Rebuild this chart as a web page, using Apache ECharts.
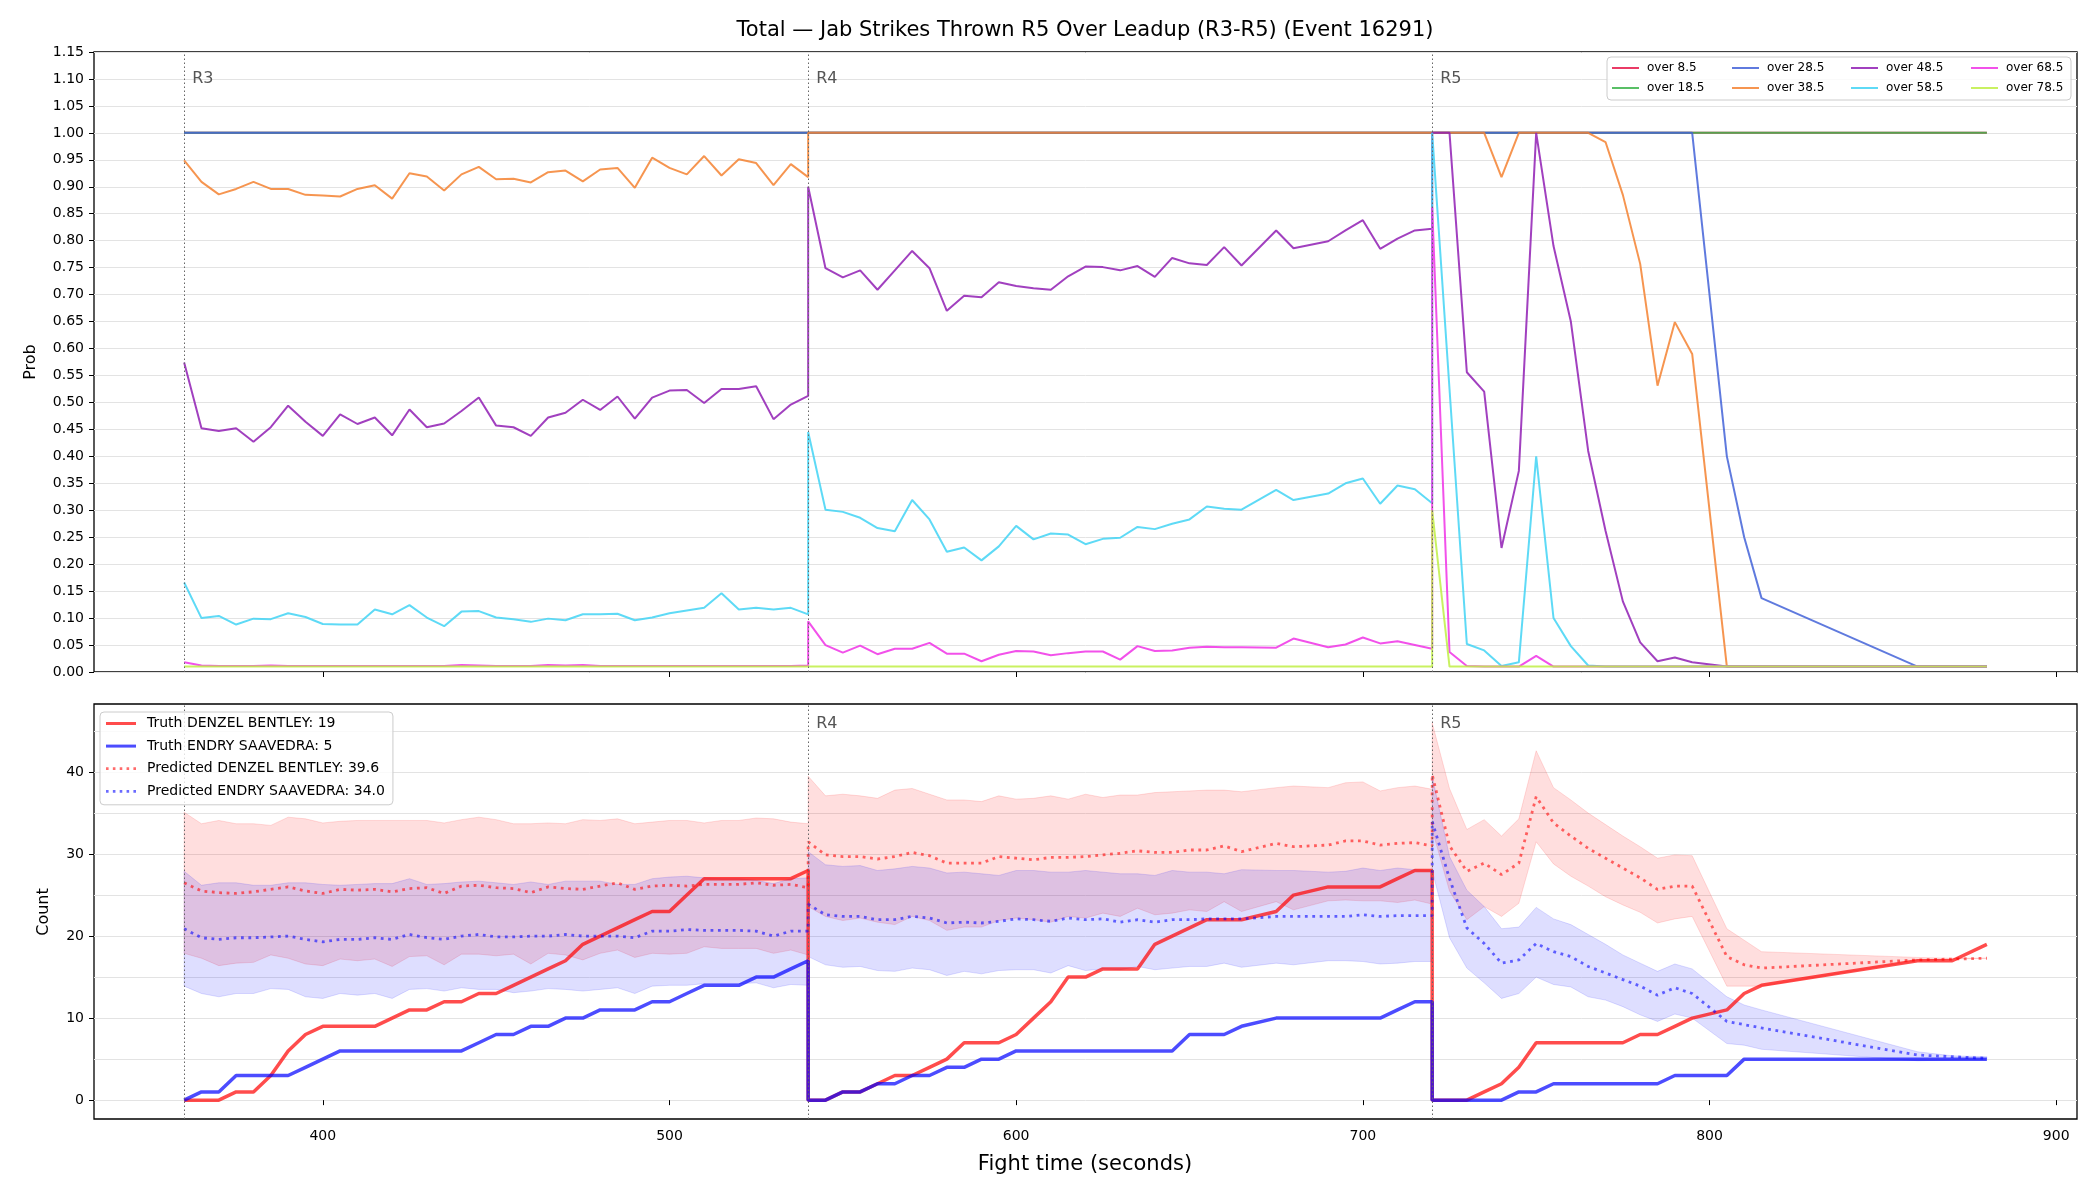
<!DOCTYPE html>
<html>
<head>
<meta charset="utf-8">
<script src="https://cdn.jsdelivr.net/npm/echarts@6/dist/echarts.min.js"></script>
<style>
  html, body { margin: 0; padding: 0; background: #fff; }
  #chart { width: 2100px; height: 1200px; }
</style>
</head>
<body>
<div id="chart"></div>
<script>
// sample times (s); rounds start at 360, 540, 720 (boundaries repeated)
const times = [
  360,365,370,375,380,385,390,395,400,405,410,415,420,425,430,435,440,445,450,455,
  460,465,470,475,480,485,490,495,500,505,510,515,520,525,530,535,540,
  540,545,550,555,560,565,570,575,580,585,590,595,600,605,610,615,620,625,630,635,
  640,645,650,655,660,665,675,680,690,695,700,705,710,715,720,
  720,725,730,735,740,745,750,755,760,765,770,775,780,785,790,795,805,810,815,860,870,880
];

// top panel: P(over X)
const pOver8 = [
  1,1,1,1,1,1,1,1,1,1,1,1,1,1,1,1,1,1,1,1,1,1,1,1,1,1,1,1,1,1,1,1,1,1,1,1,1,
  1,1,1,1,1,1,1,1,1,1,1,1,1,1,1,1,1,1,1,1,1,1,1,1,1,1,1,1,1,1,1,1,1,1,1,
  1,1,1,1,1,1,1,1,1,1,1,1,1,1,1,1,1,1,1,1,1,1
];
const pOver18 = [
  1,1,1,1,1,1,1,1,1,1,1,1,1,1,1,1,1,1,1,1,1,1,1,1,1,1,1,1,1,1,1,1,1,1,1,1,1,
  1,1,1,1,1,1,1,1,1,1,1,1,1,1,1,1,1,1,1,1,1,1,1,1,1,1,1,1,1,1,1,1,1,1,1,
  1,1,1,1,1,1,1,1,1,1,1,1,1,1,1,1,1,1,1,1,1,1
];
const pOver28 = [
  1,1,1,1,1,1,1,1,1,1,1,1,1,1,1,1,1,1,1,1,1,1,1,1,1,1,1,1,1,1,1,1,1,1,1,1,1,
  1,1,1,1,1,1,1,1,1,1,1,1,1,1,1,1,1,1,1,1,1,1,1,1,1,1,1,1,1,1,1,1,1,1,1,
  1,1,1,1,1,1,1,1,1,1,1,1,1,1,1,1,0.40,0.25,0.137,0.01,0.01,0.01
];
const pOver38 = [
  0.949,0.909,0.886,0.896,0.909,0.896,0.896,0.885,0.884,0.882,0.896,0.903,0.878,0.925,0.919,0.893,0.923,0.937,0.914,
  0.915,0.908,0.927,0.930,0.910,0.932,0.935,0.898,0.954,0.935,0.923,0.957,0.921,0.951,0.944,0.903,0.942,0.918,
  1,1,1,1,1,1,1,1,1,1,1,1,1,1,1,1,1,1,1,1,1,1,1,1,1,1,1,1,1,1,1,1,1,1,1,
  1,1,1,1,0.918,1,1,1,1,1,0.983,0.885,0.757,0.531,0.649,0.590,0.01,0.01,0.01,0.01,0.01,0.01
];
const pOver48 = [
  0.574,0.452,0.447,0.452,0.427,0.454,0.494,0.464,0.438,0.478,0.460,0.472,0.439,0.487,0.454,0.461,0.484,0.509,0.457,
  0.454,0.438,0.472,0.481,0.505,0.486,0.511,0.470,0.509,0.522,0.523,0.499,0.525,0.525,0.530,0.469,0.496,0.512,
  0.900,0.749,0.732,0.745,0.709,0.745,0.781,0.749,0.670,0.698,0.695,0.723,0.716,0.712,0.709,0.734,0.752,0.751,
  0.745,0.753,0.733,0.768,0.758,0.755,0.788,0.754,0.819,0.786,0.799,0.819,0.838,0.785,0.804,0.819,0.822,
  1,1,0.556,0.520,0.230,0.373,1,0.790,0.650,0.410,0.262,0.131,0.055,0.020,0.027,0.018,0.01,0.01,0.01,0.01,0.01,0.01
];
const pOver58 = [
  0.166,0.100,0.104,0.088,0.099,0.098,0.109,0.102,0.089,0.088,0.088,0.116,0.107,0.124,0.101,0.085,0.112,0.113,0.101,
  0.098,0.093,0.099,0.096,0.107,0.107,0.108,0.096,0.101,0.109,0.114,0.119,0.146,0.116,0.119,0.116,0.119,0.107,
  0.445,0.301,0.297,0.286,0.267,0.261,0.319,0.283,0.223,0.231,0.207,0.233,0.271,0.246,0.257,0.255,0.237,0.247,
  0.249,0.269,0.265,0.275,0.283,0.307,0.303,0.301,0.338,0.319,0.331,0.350,0.359,0.312,0.346,0.339,0.313,
  1,0.525,0.052,0.040,0.011,0.018,0.400,0.100,0.048,0.012,0.01,0.01,0.01,0.01,0.01,0.01,0.01,0.01,0.01,0.01,0.01,0.01
];
const pOver68 = [
  0.018,0.012,0.011,0.011,0.011,0.012,0.011,0.011,0.011,0.011,0.011,0.011,0.011,0.011,0.011,0.011,0.013,0.012,0.011,
  0.011,0.011,0.013,0.012,0.013,0.011,0.011,0.011,0.011,0.011,0.011,0.011,0.011,0.011,0.011,0.011,0.011,0.012,
  0.094,0.050,0.036,0.049,0.033,0.043,0.043,0.054,0.034,0.034,0.020,0.032,0.039,0.038,0.031,0.035,0.038,0.038,
  0.023,0.048,0.039,0.040,0.045,0.047,0.046,0.046,0.045,0.062,0.046,0.051,0.064,0.053,0.057,0.050,0.043,
  0.862,0.037,0.011,0.01,0.01,0.01,0.030,0.01,0.01,0.01,0.01,0.01,0.01,0.01,0.01,0.01,0.01,0.01,0.01,0.01,0.01,0.01
];
const pOver78 = [
  0.01,0.01,0.01,0.01,0.01,0.01,0.01,0.01,0.01,0.01,0.01,0.01,0.01,0.01,0.01,0.01,0.01,0.01,0.01,
  0.01,0.01,0.01,0.01,0.01,0.01,0.01,0.01,0.01,0.01,0.01,0.01,0.01,0.01,0.01,0.01,0.01,0.01,
  0.01,0.01,0.01,0.01,0.01,0.01,0.01,0.01,0.01,0.01,0.01,0.01,0.01,0.01,0.01,0.01,0.01,0.01,
  0.01,0.01,0.01,0.01,0.01,0.01,0.01,0.01,0.01,0.01,0.01,0.01,0.01,0.01,0.01,0.01,0.01,
  0.30,0.01,0.01,0.01,0.01,0.01,0.01,0.01,0.01,0.01,0.01,0.01,0.01,0.01,0.01,0.01,0.01,0.01,0.01,0.01,0.01,0.01
];

// bottom panel: counts
const truthDenzel = [
  0,0,0,1,1,3,6,8,9,9,9,9,10,11,11,12,12,13,13,14,15,16,17,19,20,21,22,23,23,25,27,27,27,27,27,27,28,
  0,0,1,1,2,3,3,4,5,7,7,7,8,10,12,15,15,16,16,16,19,20,21,22,22,22,23,25,26,26,26,26,27,28,28,
  0,0,0,1,2,4,7,7,7,7,7,7,8,8,9,10,11,13,14,17,17,19
];
const truthEndry = [
  0,1,1,3,3,3,3,4,5,6,6,6,6,6,6,6,6,7,8,8,9,9,10,10,11,11,11,12,12,13,14,14,14,15,15,16,17,
  0,0,1,1,2,2,3,3,4,4,5,5,6,6,6,6,6,6,6,6,6,6,8,8,8,9,10,10,10,10,10,10,11,12,12,
  0,0,0,0,0,1,1,2,2,2,2,2,2,2,3,3,3,5,5,5,5,5
];
const predDenzel = [
  26.5,25.5,25.3,25.2,25.4,25.7,26.0,25.5,25.2,25.7,25.6,25.7,25.4,25.8,25.9,25.2,26.1,26.2,25.9,
  25.8,25.3,26.0,25.8,25.7,26.1,26.5,25.7,26.1,26.2,26.1,26.3,26.3,26.3,26.5,26.2,26.3,25.9,
  31.5,29.9,29.7,29.7,29.4,29.7,30.2,29.8,28.9,28.9,28.9,29.7,29.5,29.3,29.6,29.6,29.7,29.9,30.1,
  30.4,30.2,30.2,30.5,30.5,31.0,30.3,31.3,30.9,31.1,31.6,31.6,31.1,31.3,31.4,31.0,
  39.7,31.0,27.9,28.9,27.5,28.9,37.0,33.8,32.2,30.7,29.5,28.3,27.1,25.7,26.1,26.1,17.5,16.5,16.1,17.1,17.2,17.3
];
const predDenzelHi = [
  35.1,33.7,34.1,33.7,33.7,33.5,34.5,34.3,33.8,34.0,34.1,34.1,34.1,34.1,34.1,33.8,34.2,34.5,34.2,
  33.7,33.7,33.8,33.7,34.2,34.1,34.3,33.7,33.9,34.1,34.1,33.8,34.1,34.1,34.4,34.3,33.9,33.7,
  39.5,37.1,37.3,37.1,36.8,37.8,38.0,37.3,36.6,36.6,36.4,37.1,36.7,36.8,37.1,36.7,37.3,36.9,37.2,
  37.2,37.5,37.6,37.7,37.8,37.8,37.6,38.1,38.3,38.1,38.7,38.8,37.7,38.1,38.3,37.9,
  46.0,38.0,33.0,34.2,32.2,34.3,42.6,38.1,36.6,35.0,33.6,32.2,30.9,29.5,29.9,29.8,20.9,19.5,18.1,17.4,17.3,17.3
];
const predDenzelLo = [
  17.9,17.3,16.4,16.7,16.8,17.7,17.3,16.6,16.4,17.2,17.0,17.2,16.3,17.5,17.6,16.5,17.8,17.8,17.6,
  17.8,16.6,17.9,17.7,17.1,17.9,18.3,17.4,17.9,17.8,17.9,18.7,18.5,18.5,18.5,17.9,18.3,17.7,
  23.6,22.4,21.9,22.2,21.7,21.4,22.4,21.9,20.7,21.1,21.1,21.9,22.2,22.0,21.7,22.4,22.2,22.8,22.4,
  23.4,22.6,22.8,23.2,23.0,24.2,23.0,24.2,23.2,24.3,24.4,24.3,24.3,24.1,24.4,23.9,
  33.0,25.5,22.0,23.6,22.4,24.0,31.5,28.8,27.3,26.1,24.8,23.8,22.9,21.6,22.1,22.4,13.9,13.9,13.9,17.0,17.2,17.3
];
const predEndry = [
  20.9,19.8,19.6,19.8,19.8,19.9,20.0,19.6,19.3,19.6,19.6,19.8,19.6,20.2,19.8,19.6,20.0,20.2,19.9,
  19.9,20.0,20.0,20.2,20.0,20.0,20.0,19.8,20.6,20.6,20.8,20.7,20.7,20.7,20.6,20.0,20.6,20.6,
  23.9,22.6,22.4,22.4,22.0,22.0,22.4,22.2,21.6,21.7,21.6,21.8,22.1,22.0,21.8,22.2,22.0,22.1,21.7,
  22.0,21.7,22.0,22.0,22.1,22.1,22.1,22.4,22.4,22.4,22.4,22.6,22.4,22.5,22.5,22.5,
  34.0,27.0,21.0,19.1,16.7,17.1,19.1,18.1,17.5,16.3,15.5,14.7,13.9,12.8,13.7,13.0,9.6,9.2,8.8,5.5,5.3,5.1
];
const predEndryHi = [
  27.9,26.2,26.5,26.5,26.2,26.2,26.5,26.5,26.3,26.2,26.3,26.4,26.4,27.0,26.3,26.4,26.6,26.7,26.5,
  26.3,26.6,26.3,26.7,26.7,26.7,26.3,26.3,27.0,27.2,27.3,27.1,27.0,27.0,26.8,26.4,27.0,27.1,
  30.3,28.7,28.5,28.6,28.0,28.2,28.5,28.3,27.7,27.8,27.6,27.4,28.0,28.0,27.8,27.8,28.0,27.8,27.6,
  27.6,27.4,28.0,27.8,27.8,27.6,28.1,28.0,28.0,27.8,27.9,28.3,28.0,28.3,28.1,28.0,
  39.5,29.7,25.6,23.6,20.9,21.1,23.5,22.1,21.4,20.2,19.0,17.7,16.7,15.7,16.6,16.0,12.6,11.6,11.0,5.9,5.4,5.3
];
const predEndryLo = [
  13.9,13.0,12.6,13.0,13.0,13.6,13.5,12.6,12.4,13.0,12.8,13.0,12.4,13.5,13.6,13.3,13.7,13.5,13.5,
  13.1,13.3,13.6,13.5,13.3,13.5,13.7,13.0,13.9,14.0,14.0,14.2,14.2,14.2,14.3,13.7,14.1,14.0,
  17.5,16.5,16.2,16.3,15.8,15.7,16.1,15.9,15.2,15.7,15.4,15.8,15.9,15.9,15.5,16.4,15.8,16.0,15.9,
  16.3,15.9,16.1,16.3,16.3,16.7,16.2,16.7,16.5,17.0,17.0,16.9,16.6,16.7,16.9,16.9,
  28.0,19.8,16.1,14.3,12.4,13.0,15.0,14.1,13.8,12.6,12.2,11.4,10.4,9.6,10.5,10.0,6.9,6.7,6.2,4.8,4.9,5.0
];

const roundStarts = [360, 540, 720];
const roundNames = ['R3', 'R4', 'R5'];
const xTicks = [400, 500, 600, 700, 800, 900];
const countTicks = [0, 10, 20, 30, 40];
const countGrid = [0, 5, 10, 15, 20, 25, 30, 35, 40, 45];

const FONT = '"DejaVu Sans", sans-serif';
const pairs = vals => times.map((t, i) => [t, vals[i]]);
const fade = (hex, a) => 'rgba(' + [1, 3, 5].map(i => parseInt(hex.substr(i, 2), 16)).join(',') + ',' + a + ')';

const thresholds = [
  ['over 8.5', pOver8, '#e6194b'],
  ['over 18.5', pOver18, '#3cb44b'],
  ['over 28.5', pOver28, '#4363d8'],
  ['over 38.5', pOver38, '#f58231'],
  ['over 48.5', pOver48, '#911eb4'],
  ['over 58.5', pOver58, '#42d4f4'],
  ['over 68.5', pOver68, '#f032e6'],
  ['over 78.5', pOver78, '#bfef45']
];

const roundLine = {
  silent: true, symbol: ['none', 'none'], animation: false,
  label: { show: false },
  lineStyle: { color: '#666', type: [1.5, 2.5], width: 1 },
  data: roundStarts.map(x => ({ xAxis: x }))
};
function roundLabels(yVal, from) {
  return {
    silent: true, symbolSize: 0, animation: false,
    label: { show: true, position: 'right', distance: 8, formatter: '{b}',
             color: '#555', fontSize: 16, fontFamily: FONT },
    data: roundStarts.slice(from).map((x, k) => ({ name: roundNames[k + from], coord: [x, yVal] }))
  };
}

const topSeries = thresholds.map(([name, vals, hex], k) => {
  const color = fade(hex, 0.85);
  return {
    name, type: 'line', xAxisIndex: 0, yAxisIndex: 0,
    data: pairs(vals), symbol: 'none', showSymbol: false, z: 2,
    color, lineStyle: { color, width: 2 },
    markLine: k === 0 ? roundLine : undefined,
    markPoint: k === 0 ? roundLabels(1.10, 0) : undefined
  };
});

function band(lo, hi, color) {
  return {
    type: 'custom', xAxisIndex: 1, yAxisIndex: 1, z: 1, silent: true,
    data: [[times[0], lo[0], hi[0]]],
    renderItem: (params, api) => {
      if (params.dataIndex !== 0) return null;
      const top = times.map((t, i) => api.coord([t, hi[i]]));
      const bottom = times.map((t, i) => api.coord([t, lo[i]])).reverse();
      return {
        type: 'polygon',
        shape: { points: top.concat(bottom) },
        style: { fill: color, stroke: color, lineWidth: 1 }
      };
    }
  };
}

const RED = 'rgba(255,0,0,0.7)', BLUE = 'rgba(0,0,255,0.7)';
const RED_P = 'rgba(255,0,0,0.58)', BLUE_P = 'rgba(0,0,255,0.58)';
const dotted = [2.8, 4.6];
const dotIcon = 'path://M0,0h2.8v3h-2.8zM7.4,0h2.8v3h-2.8zM14.8,0h2.8v3h-2.8zM22.2,0h2.8v3h-2.8zM29.6,0h2.8v3h-2.8z';

const bottomSeries = [
  band(predDenzelLo, predDenzelHi, 'rgba(255,0,0,0.13)'),
  band(predEndryLo, predEndryHi, 'rgba(0,0,255,0.13)'),
  { name: 'Truth DENZEL BENTLEY: 19', type: 'line', xAxisIndex: 1, yAxisIndex: 1,
    data: pairs(truthDenzel), symbol: 'none', z: 3, color: RED,
    lineStyle: { color: RED, width: 3.5 },
    markLine: roundLine, markPoint: roundLabels(45.9, 1) },
  { name: 'Truth ENDRY SAAVEDRA: 5', type: 'line', xAxisIndex: 1, yAxisIndex: 1,
    data: pairs(truthEndry), symbol: 'none', z: 3, color: BLUE,
    lineStyle: { color: BLUE, width: 3.5 } },
  { name: 'Predicted DENZEL BENTLEY: 39.6', type: 'line', xAxisIndex: 1, yAxisIndex: 1,
    data: pairs(predDenzel), symbol: 'none', z: 4, color: RED_P,
    lineStyle: { color: RED_P, width: 2.8, type: dotted, cap: 'butt' } },
  { name: 'Predicted ENDRY SAAVEDRA: 34.0', type: 'line', xAxisIndex: 1, yAxisIndex: 1,
    data: pairs(predEndry), symbol: 'none', z: 4, color: BLUE_P,
    lineStyle: { color: BLUE_P, width: 2.8, type: dotted, cap: 'butt' } }
];

const tickStyle = { length: 5, lineStyle: { color: '#000', width: 1 } };
const labelStyle = { color: '#000', fontSize: 14, fontFamily: FONT };

const legendCols = [['over 8.5', 'over 18.5'], ['over 28.5', 'over 38.5'],
                    ['over 48.5', 'over 58.5'], ['over 68.5', 'over 78.5']];
const legendLeft = [1612, 1732, 1851, 1971];

const chart = echarts.init(document.getElementById('chart'));
chart.setOption({
  animation: false,
  backgroundColor: '#fff',
  textStyle: { fontFamily: FONT },
  grid: [
    { left: 94, right: 23, top: 52, height: 620, show: true, borderColor: '#000', borderWidth: 1.3 },
    { left: 94, right: 23, top: 704, height: 415, show: true, borderColor: '#000', borderWidth: 1.3 }
  ],
  xAxis: [
    { gridIndex: 0, type: 'value', min: 334, max: 906,
      axisLine: { show: false }, splitLine: { show: false },
      axisTick: Object.assign({ customValues: xTicks }, tickStyle),
      axisLabel: { show: false } },
    { gridIndex: 1, type: 'value', min: 334, max: 906,
      axisLine: { show: false }, splitLine: { show: false },
      axisTick: Object.assign({ customValues: xTicks }, tickStyle),
      axisLabel: Object.assign({ customValues: xTicks, margin: 10 }, labelStyle) }
  ],
  yAxis: [
    { gridIndex: 0, type: 'value', min: 0, max: 1.15, interval: 0.05,
      axisLine: { show: false }, axisTick: tickStyle,
      axisLabel: Object.assign({ margin: 10, formatter: v => v.toFixed(2) }, labelStyle),
      splitLine: { show: true, lineStyle: { color: '#e3e3e3', width: 1 } } },
    { gridIndex: 1, type: 'value', min: -2.3, max: 48.3,
      axisLine: { show: false }, splitLine: { show: false },
      axisTick: Object.assign({ customValues: countTicks }, tickStyle),
      axisLabel: Object.assign({ customValues: countTicks, margin: 10 }, labelStyle) },
    { gridIndex: 1, type: 'value', min: -2.3, max: 48.3,
      axisLine: { show: false }, axisLabel: { show: false },
      axisTick: { show: false, customValues: countGrid },
      splitLine: { show: true, lineStyle: { color: '#e3e3e3', width: 1 } } }
  ],
  legend: legendCols.map((names, k) => ({
    data: names.map(n => ({ name: n, icon: 'rect' })),
    orient: 'vertical', left: legendLeft[k], top: 61,
    itemWidth: 27, itemHeight: 2, itemGap: 6, padding: 0, selectedMode: false, z: 6,
    textStyle: { color: '#000', fontSize: 12, lineHeight: 14, fontFamily: FONT, padding: [0, 0, 0, 3] }
  })).concat([{
    data: [
      { name: 'Truth DENZEL BENTLEY: 19', icon: 'rect' },
      { name: 'Truth ENDRY SAAVEDRA: 5', icon: 'rect' },
      { name: 'Predicted DENZEL BENTLEY: 39.6', icon: dotIcon },
      { name: 'Predicted ENDRY SAAVEDRA: 34.0', icon: dotIcon }
    ],
    orient: 'vertical', left: 100, top: 712, padding: [3, 8, 5, 6],
    itemWidth: 30, itemHeight: 3, itemGap: 5.6, selectedMode: false, z: 6,
    backgroundColor: 'rgba(255,255,255,0.8)', borderColor: '#cccccc', borderWidth: 1, borderRadius: 4,
    textStyle: { color: '#000', fontSize: 14, lineHeight: 17, fontFamily: FONT, padding: [0, 0, 0, 6] }
  }]),
  graphic: [
    { type: 'rect', z: 5, shape: { x: 1607, y: 57, width: 464, height: 43, r: 4 },
      style: { fill: 'rgba(255,255,255,0.8)', stroke: '#cccccc', lineWidth: 1 } },
    { type: 'text', x: 1085, y: 31, z: 10,
      style: { text: 'Total — Jab Strikes Thrown R5 Over Leadup (R3-R5) (Event 16291)',
               font: '21px ' + FONT, fill: '#000', align: 'center', verticalAlign: 'middle' } },
    { type: 'text', x: 31, y: 362, rotation: Math.PI / 2, z: 10,
      style: { text: 'Prob', font: '16px ' + FONT, fill: '#000', align: 'center', verticalAlign: 'middle' } },
    { type: 'text', x: 44, y: 912, rotation: Math.PI / 2, z: 10,
      style: { text: 'Count', font: '16px ' + FONT, fill: '#000', align: 'center', verticalAlign: 'middle' } },
    { type: 'text', x: 1085, y: 1165, z: 10,
      style: { text: 'Fight time (seconds)', font: '21px ' + FONT, fill: '#000', align: 'center', verticalAlign: 'middle' } }
  ],
  series: topSeries.concat(bottomSeries)
});
</script>
</body>
</html>
